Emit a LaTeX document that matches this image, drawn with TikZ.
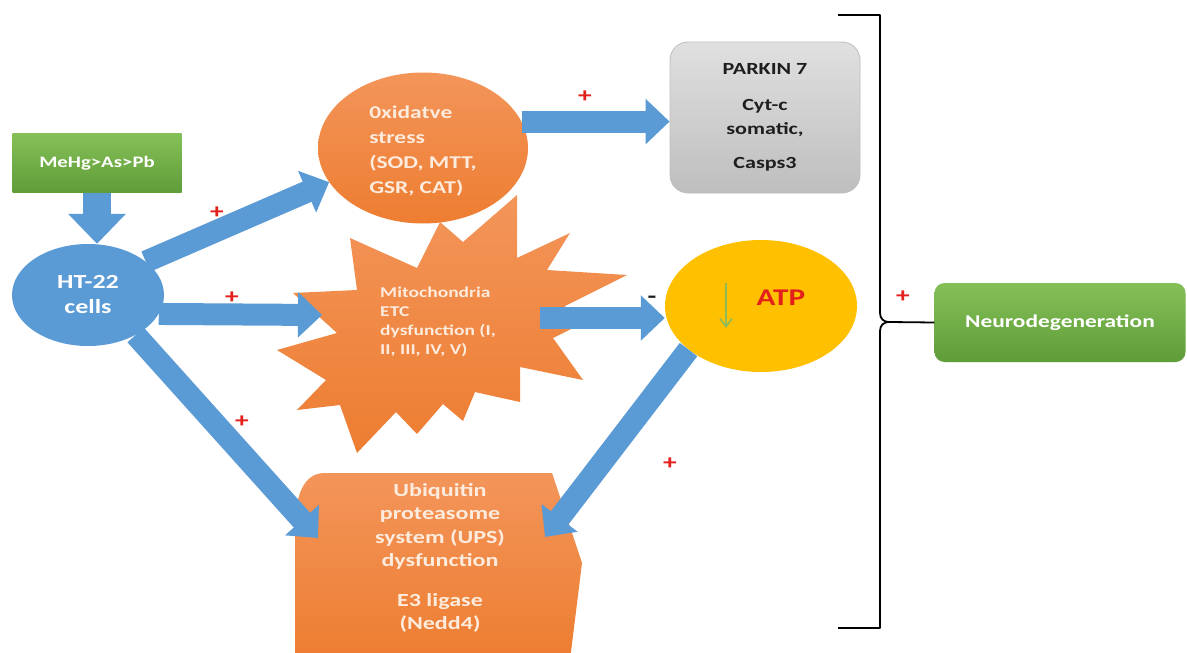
\documentclass[tikz,border=0pt]{standalone}
\usepackage{fontspec}
\setmainfont{Carlito}[FakeStretch=1.3]
\usetikzlibrary{arrows.meta,shapes.geometric}
\definecolor{cblue}{HTML}{5B9BD5}
\definecolor{corange}{HTML}{ED7D31}
\definecolor{corangeL}{HTML}{F3955A}
\definecolor{cyellow}{HTML}{FFC000}
\definecolor{cgreenL}{HTML}{85BF57}
\definecolor{cgreenD}{HTML}{5F9D39}
\definecolor{cgreenA}{HTML}{8DBA5A}
\definecolor{cgreyL}{HTML}{E0E0E0}
\definecolor{cgreyD}{HTML}{BEBEBE}
\definecolor{cred}{HTML}{E3201C}
\definecolor{ctext}{HTML}{FDEBDD}
\definecolor{cdark}{HTML}{1E1E1E}
\begin{document}
\begin{tikzpicture}[x=1pt,y=-1pt,
  blockarrow/.style={draw=cblue,line width=22pt,-{Triangle[length=24pt,width=44pt]}},
  downarrow/.style={draw=cblue,line width=28pt,-{Triangle[length=30pt,width=56pt]}},
  greenbox/.style={rectangle,top color=cgreenL,bottom color=cgreenD,draw=none,inner sep=0pt,text=white,font=\bfseries\fontsize{16}{19}\selectfont},
  plusmark/.style={text=cred,font=\bfseries\fontsize{21}{21}\selectfont,inner sep=0pt},
  orangetext/.style={text=ctext,inner sep=0pt}
]
\path[use as bounding box] (0,0) rectangle (1187,653);
\fill[white] (0,0) rectangle (1187,653);

% starburst
\path[top color=corangeL,bottom color=corange]
  (350,238) -- (417,268) -- (440,222) -- (463,242) -- (517,195) -- (517,258)
  -- (570,233) -- (547,270) -- (627,275) -- (565,306) -- (575,327) -- (553,338)
  -- (583,380) -- (520,367) -- (520,402) -- (475,392) -- (463,421) -- (443,404)
  -- (417,434) -- (396,412) -- (357,453) -- (340,405) -- (297,410) -- (326,380)
  -- (277,350) -- (337,333) -- (293,293) -- (357,290) -- cycle;
\node[orangetext,align=left,font=\bfseries\fontsize{15}{19}\selectfont] (etc) at (438,322)
  {Mitochondria\\ETC\\dysfunction (I,\\II, III, IV, V)};

% UPS shape
\path[top color=corangeL,bottom color=corange]
  (325,473) -- (552,473) -- (582,563) -- (570,660) -- (295,660) -- (295,530)
  .. controls (295,496) and (303,473) .. (325,473) -- cycle;
\node[orangetext,align=center,font=\bfseries\fontsize{18.5}{23.5}\selectfont] (ups) at (440,558)
  {Ubiquitin\\proteasome\\system (UPS)\\dysfunction\\[16pt]E3 ligase\\(Nedd4)};

% oxidative stress
\node[ellipse,top color=corangeL,bottom color=corange,minimum width=210pt,minimum height=151pt,inner sep=0pt] (ox) at (423,148) {};
\node[orangetext,align=left,font=\bfseries\fontsize{18}{25.3}\selectfont] (oxt) at (423,151)
  {0xidatve\\stress\\(SOD, MTT,\\GSR, CAT)};

% source box and cells
\node[greenbox,minimum width=169pt,minimum height=59pt] (metal) at (97,163) {MeHg>As>Pb};
\node[ellipse,fill=cblue,minimum width=152pt,minimum height=102pt,inner sep=0pt,text=white,align=center,
  font=\bfseries\fontsize{20}{25}\selectfont] (ht) at (88,295) {HT-22\\cells};

% grey box
\node[rectangle,rounded corners=18pt,top color=cgreyL,bottom color=cgreyD,draw=cgreyD,line width=0.8pt,
  minimum width=190pt,minimum height=151pt,inner sep=0pt,text=cdark,align=center,
  font=\bfseries\fontsize{17}{24}\selectfont] (grey) at (765,117.5)
  {PARKIN 7\\[12pt]Cyt-c\\somatic,\\[10pt]Casps3};

% ATP
\node[ellipse,fill=cyellow,minimum width=192pt,minimum height=132pt,inner sep=0pt] (atp) at (761,306) {};
\node[text=cred,inner sep=0pt,font=\bfseries\fontsize{24}{24}\selectfont] (atpl) at (781,298) {ATP};
\coordinate (gtop) at (726,283);
\coordinate (gbot) at (726,328);
\draw[cgreenA,line width=1.6pt,-{Straight Barb[length=8pt,width=12pt]}] (gtop) -- (gbot);

% neurodegeneration
\node[greenbox,rounded corners=10pt,minimum width=251pt,minimum height=79pt,font=\bfseries\fontsize{18}{20}\selectfont] (neuro) at (1060,322.5) {Neurodegeneration};

% bracket
\coordinate (btip) at (889,322);
\draw[black,line width=1.8pt,line join=round] (838,15) -- (880,15) -- (880,313)
  .. controls (880,319) and (884,322) .. (btip)
  .. controls (884,322) and (880,325) .. (880,331) -- (880,628) -- (838,628);
\draw[black,line width=1.8pt] (btip) -- (neuro.west);

% arrows
\coordinate (starin) at (322,315);
\coordinate (starout) at (540,318);
\coordinate (upsl) at (318,538);
\coordinate (upsr) at (545,537);
\draw[downarrow] (metal.south) -- (metal.south |- ht.north);
\draw[blockarrow] (ht.30) -- (ox.200);
\draw[blockarrow] (ht.-15) -- (starin);
\draw[blockarrow] (ht.-40) -- (upsl);
\draw[blockarrow] (ox.15) -- (ox.15 -| grey.west);
\draw[blockarrow] (starout) -- (starout -| atp.west);
\draw[blockarrow] (atp.211) -- (upsr);

% signs
\node[plusmark] (p1) at (585,97) {+};
\node[plusmark] (p2) at (217,213) {+};
\node[plusmark] (p3) at (232,298) {+};
\node[plusmark] (p4) at (242,422) {+};
\node[plusmark] (p5) at (670,464) {+};
\node[plusmark] (p6) at (903,297) {+};
\node[text=cdark,inner sep=0pt,font=\bfseries\fontsize{22}{22}\selectfont] (m1) at (652,300) {-};
\end{tikzpicture}
\end{document}
